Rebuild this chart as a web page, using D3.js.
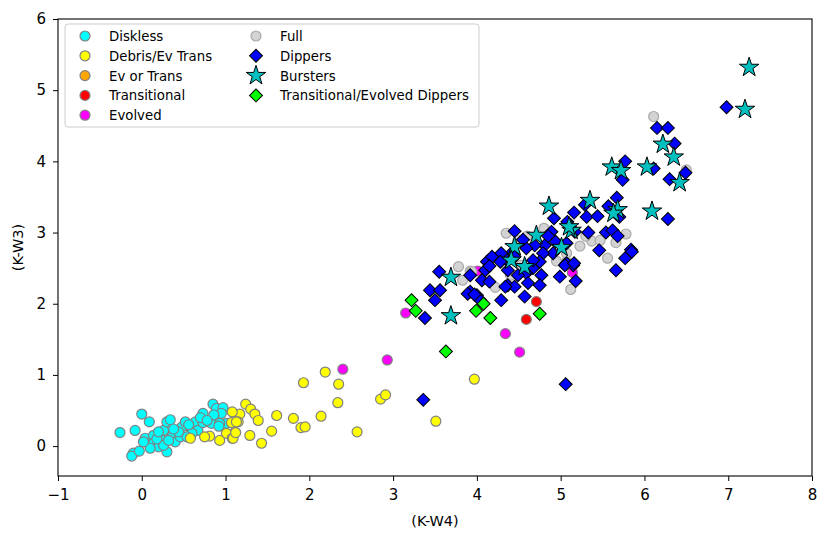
<!DOCTYPE html>
<html><head><meta charset="utf-8">
<script src="https://cdn.jsdelivr.net/npm/d3@7"></script>
<style>body{margin:0;background:#fff}svg{display:block}text{font-family:"DejaVu Sans",sans-serif}</style>
</head><body><svg id="c" width="831" height="541"></svg>
<script>
const xTicks=[-1,0,1,2,3,4,5,6,7,8];
const yTicks=[0,1,2,3,4,5,6];
const diskless=[[-0.26,0.19],[-0.08,0.22],[0.0,0.45],[0.09,0.34],[-0.10,-0.10],[-0.12,-0.14],[-0.03,-0.07],[0.04,0.11],[0.08,0.04],[0.14,0.15],[0.14,0.04],[0.20,-0.01],[0.24,0.08],[0.26,0.22],[0.30,0.34],[0.34,0.37],[0.30,-0.08],[0.36,0.13],[0.40,0.06],[0.46,0.13],[0.48,0.27],[0.52,0.34],[0.58,0.26],[0.64,0.34],[0.67,0.22],[0.73,0.46],[0.73,0.33],[0.83,0.32],[0.85,0.59],[0.89,0.53],[0.97,0.54],[0.95,0.46],[1.01,0.32],[0.93,0.32],[0.60,0.18],[0.54,0.13],[0.10,-0.03],[0.02,0.06],[0.26,0.01],[0.32,0.08],[0.44,0.20],[0.70,0.40],[0.86,0.44],[0.18,0.10],[0.38,0.24],[0.56,0.30],[0.78,0.36],[0.92,0.28],[0.20,0.20]];
const debris=[[1.24,0.59],[1.30,0.52],[1.35,0.45],[1.39,0.36],[1.17,0.45],[1.08,0.48],[1.15,0.34],[1.07,0.33],[1.11,0.19],[1.01,0.18],[1.08,0.11],[0.93,0.08],[0.81,0.14],[0.75,0.13],[0.58,0.11],[1.29,0.15],[1.43,0.04],[1.55,0.21],[1.61,0.43],[1.81,0.39],[1.90,0.26],[1.95,0.27],[1.93,0.89],[2.14,0.42],[2.19,1.04],[2.35,0.87],[2.34,0.61],[2.57,0.20],[2.85,0.66],[2.91,0.72],[3.51,0.35],[3.97,0.94],[1.09,0.11],[1.12,0.19],[1.13,0.34]];
const evOrTrans=[];
const transitional=[[4.71,2.03],[4.59,1.78]];
const evolved=[[3.15,1.87],[4.34,1.58],[4.51,1.32],[2.93,1.21],[2.40,1.08],[4.01,2.46],[5.14,2.44]];
const full=[[6.11,4.63],[6.50,3.88],[4.80,3.06],[5.23,2.81],[5.37,2.88],[5.47,2.89],[5.66,2.86],[5.78,2.98],[4.35,2.99],[5.56,2.64],[3.78,2.52],[3.83,2.33],[3.92,2.46],[4.22,2.23],[5.12,2.20],[5.07,2.59],[4.49,2.89],[4.31,2.57],[4.53,2.54],[3.94,2.45],[5.07,2.71],[4.60,2.95],[4.95,2.60],[4.40,2.40],[5.30,2.95]];
const dippers=[[6.98,4.76],[6.15,4.47],[6.28,4.47],[6.36,4.25],[5.77,4.00],[6.11,3.90],[5.74,3.74],[6.30,3.75],[6.49,3.84],[6.28,3.19],[5.67,3.49],[5.57,3.37],[5.70,3.22],[5.29,3.39],[5.16,3.28],[5.31,3.22],[5.44,3.23],[4.92,3.20],[5.08,3.15],[5.17,3.01],[5.33,3.00],[5.54,3.00],[5.62,3.03],[5.68,2.95],[4.89,3.01],[4.94,2.87],[5.07,2.85],[5.84,2.76],[4.45,3.02],[4.81,2.82],[4.69,2.82],[4.59,2.78],[4.43,2.73],[4.30,2.66],[4.36,2.61],[4.91,2.71],[5.07,2.57],[5.15,2.54],[4.99,2.38],[5.18,2.32],[4.79,2.71],[4.75,2.59],[4.67,2.50],[4.59,2.43],[4.77,2.40],[4.61,2.29],[4.75,2.26],[4.45,2.66],[4.29,2.71],[4.28,2.59],[4.37,2.47],[4.37,2.26],[4.45,2.24],[4.34,2.24],[4.49,2.40],[4.67,2.61],[4.12,2.59],[4.18,2.66],[4.10,2.47],[4.06,2.33],[4.15,2.31],[3.92,2.40],[3.55,2.45],[3.44,2.19],[3.56,2.19],[3.50,2.05],[3.92,2.17],[4.00,2.12],[4.04,2.05],[4.29,2.05],[4.57,2.10],[3.38,1.80],[3.89,2.14],[3.97,2.13],[4.15,2.53],[5.46,2.75],[5.66,2.47],[5.77,2.64],[5.85,2.73],[5.05,2.54],[5.16,2.57],[5.06,0.87],[3.36,0.65],[4.55,2.90],[4.85,2.95]];
const bursters=[[7.25,5.32],[7.20,4.73],[6.22,4.24],[6.35,4.06],[5.61,3.92],[5.72,3.87],[6.03,3.92],[6.42,3.70],[6.09,3.30],[4.86,3.37],[5.35,3.45],[5.68,3.32],[5.63,3.27],[5.13,3.03],[4.71,2.96],[5.01,2.79],[3.69,2.37],[3.69,1.83],[4.45,2.80],[4.57,2.52],[4.41,2.61],[5.10,3.08]];
const tedippers=[[3.22,2.05],[3.27,1.90],[3.63,1.33],[3.99,1.90],[4.08,2.00],[4.16,1.80],[4.75,1.86]];

const svg=d3.select("#c");
const L=58,R=812,T=19,B=476;
const x=d3.scaleLinear().domain([-1,8]).range([L,R]);
const y=d3.scaleLinear().domain([-0.42,6]).range([B,T]);

const groups=[
 {name:"Diskless",data:diskless,type:"circle",fill:"#00FFFF",stroke:"#808080"},
 {name:"Debris/Ev Trans",data:debris,type:"circle",fill:"#FFFF00",stroke:"#808080"},
 {name:"Ev or Trans",data:evOrTrans,type:"circle",fill:"#FFA500",stroke:"#808080"},
 {name:"Transitional",data:transitional,type:"circle",fill:"#FF0000",stroke:"#808080"},
 {name:"Evolved",data:evolved,type:"circle",fill:"#FF00FF",stroke:"#808080"},
 {name:"Full",data:full,type:"circle",fill:"#D3D3D3",stroke:"#A9A9A9"},
 {name:"Dippers",data:dippers,type:"diamond",fill:"#0000FF",stroke:"#000"},
 {name:"Bursters",data:bursters,type:"star",fill:"#00BFBF",stroke:"#000"},
 {name:"Transitional/Evolved Dippers",data:tedippers,type:"diamond",fill:"#00FF00",stroke:"#000"}
];
const sym={
 circle:d3.symbol(d3.symbolCircle,Math.PI*25)(),
 diamond:d3.symbol(d3.symbolSquare,84)(),
 star:d3.symbol(d3.symbolStar,118)()
};
function drawMark(g,type,cx,cy,fill,stroke){
 return g.append("path").attr("d",sym[type]).attr("fill",fill).attr("stroke",stroke).attr("stroke-width",type==="circle"?1.2:1)
  .attr("transform",`translate(${cx},${cy})`+(type==="diamond"?" rotate(45)":""));
}
const plot=svg.append("g");
groups.forEach(gr=>{
 const g=plot.append("g");
 gr.data.forEach(d=>drawMark(g,gr.type,x(d[0]),y(d[1]),gr.fill,gr.stroke));
});

// axes
const fmt=d=>d<0?"\u2212"+Math.abs(d):String(d);
const xa=svg.append("g").attr("transform",`translate(0,${B})`).call(d3.axisBottom(x).tickValues(xTicks).tickSize(5).tickPadding(8).tickFormat(fmt));
const ya=svg.append("g").attr("transform",`translate(${L},0)`).call(d3.axisLeft(y).tickValues(yTicks).tickSize(5).tickPadding(7).tickFormat(fmt));
[xa,ya].forEach(a=>{a.select(".domain").remove();a.selectAll("text").attr("font-size",15).attr("fill","#000").attr("font-family","DejaVu Sans");a.selectAll("line").attr("stroke","#000").attr("stroke-width",1);});
svg.append("rect").attr("x",L).attr("y",T).attr("width",R-L).attr("height",B-T).attr("fill","none").attr("stroke","#000").attr("stroke-width",1.1);

svg.append("text").attr("x",(L+R)/2).attr("y",526).attr("text-anchor","middle").attr("font-size",14.5).text("(K-W4)");
svg.append("text").attr("transform",`translate(23,${(T+B)/2}) rotate(-90)`).attr("text-anchor","middle").attr("font-size",14.5).text("(K-W3)");

// legend
const lg=svg.append("g");
lg.append("rect").attr("x",65).attr("y",24).attr("width",414).attr("height",103).attr("rx",3).attr("fill","#fff").attr("fill-opacity",0.8).attr("stroke","#ccc");
groups.forEach((gr,i)=>{
 const col=i<5?0:1, row=i<5?i:i-5;
 const mx=col===0?85:256, ty=36+row*19.8;
 drawMark(lg,gr.type,mx,ty,gr.fill,gr.stroke);
 lg.append("text").attr("x",mx+24).attr("y",ty+5).attr("font-size",13.3).text(gr.name);
});
</script></body></html>
